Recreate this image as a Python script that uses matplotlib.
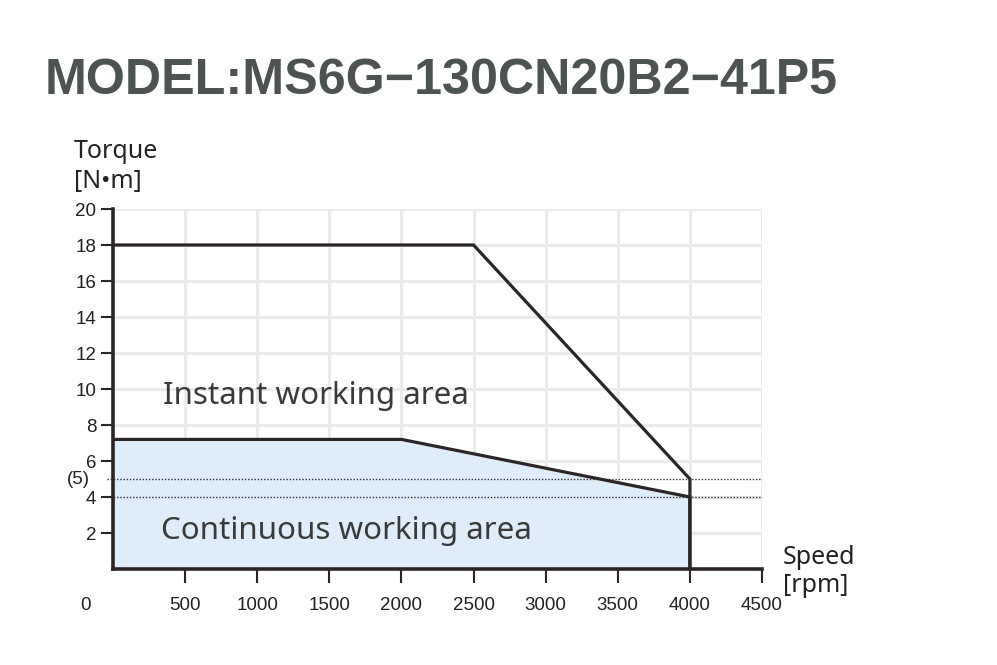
import matplotlib
matplotlib.use("Agg")
import matplotlib.pyplot as plt

speed_instant = [0, 2500, 4000, 4000]
torque_instant = [18, 18, 5, 0]
speed_cont = [0, 2000, 4000, 4000]
torque_cont = [7.2, 7.2, 4, 0]
ref_levels = [5, 4]
x_ticks = [500, 1000, 1500, 2000, 2500, 3000, 3500, 4000, 4500]
y_ticks = [2, 4, 6, 8, 10, 12, 14, 16, 18, 20]
title = "MODEL:MS6G\u2212130CN20B2\u221241P5"

W, H = 997, 665
fig = plt.figure(figsize=(W / 100, H / 100), dpi=100)
ax = fig.add_axes([113 / W, 1 - 569 / H, (762 - 113) / W, (569 - 209) / H])
ax.set_xlim(0, 4500)
ax.set_ylim(0, 20)

line_c = "#2c2526"
grid_c = "#ebebeb"
for x in x_ticks:
    ax.plot([x, x], [0, 20], color=grid_c, lw=2.2, zorder=0)
for y in y_ticks:
    ax.plot([0, 4500], [y, y], color=grid_c, lw=2.2, zorder=0)

ax.fill_between(speed_cont, torque_cont, 0, color="#deedf9", zorder=1, lw=0)

for lv in ref_levels:
    ax.plot([-45, 4500], [lv, lv], color="#333333", lw=1.0, ls=(0, (1, 1.3)), zorder=2, clip_on=False)

ax.plot(speed_instant, torque_instant, color=line_c, lw=2.3, zorder=3, solid_joinstyle="miter")
ax.plot(speed_cont, torque_cont, color=line_c, lw=2.3, zorder=3, solid_joinstyle="miter")

for s in ["top", "right"]:
    ax.spines[s].set_visible(False)
for s in ["left", "bottom"]:
    ax.spines[s].set_color(line_c)
    ax.spines[s].set_linewidth(2.6)
    ax.spines[s].set_zorder(4)

ax.set_xticks(x_ticks)
ax.set_yticks(y_ticks)
ax.tick_params(axis="x", length=10, width=1.5, color=line_c, pad=10, labelsize=13.5, labelcolor="#222222")
ax.tick_params(axis="y", length=9, width=1.5, color=line_c, pad=3, labelsize=13.5, labelcolor="#222222")
for lab in ax.get_xticklabels() + ax.get_yticklabels():
    lab.set_family("Liberation Sans")

tick_font = dict(family="Liberation Sans", fontsize=13.5, color="#222222")
fig.text(85 / W, 1 - 606 / H, "0", ha="center", va="center", **tick_font)
fig.text(90 / W, 1 - 480 / H, "(5)", ha="right", va="center", **tick_font)

lab_font = dict(family="Noto Sans", fontsize=18, color="#222222", fontweight="light")
fig.text(74 / W, 1 - 152 / H, "Torque", ha="left", va="center", **lab_font)
fig.text(74 / W, 1 - 181 / H, "[N\u2022m]", ha="left", va="center", **lab_font)
fig.text(783 / W, 1 - 558 / H, "Speed", ha="left", va="center", **lab_font)
fig.text(783 / W, 1 - 586 / H, "[rpm]", ha="left", va="center", **lab_font)

area_font = dict(family="Noto Sans", fontsize=22.5, color="#3a3a3a", fontweight="light")
fig.text(163 / W, 1 - 396 / H, "Instant working area", ha="left", va="center", **area_font)
fig.text(161 / W, 1 - 531 / H, "Continuous working area", ha="left", va="center", **area_font)

fig.text(45 / W, 1 - 81 / H, title, ha="left", va="center", family="Liberation Sans",
         fontweight="bold", fontsize=36.2, color="#4d5253")

fig.savefig("out.png", dpi=100, facecolor="white")
